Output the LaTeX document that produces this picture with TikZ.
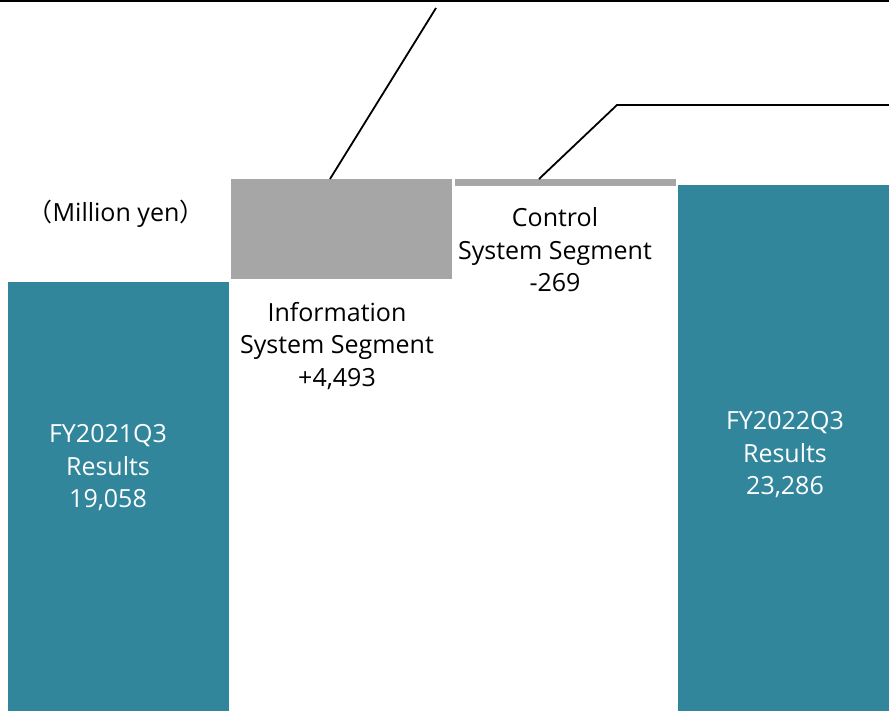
\documentclass[tikz,border=0pt]{standalone}
\usepackage{fontspec}
\setmainfont{Open Sans}
\newfontfamily\cjkfont{Noto Sans CJK JP}
\definecolor{tealbar}{RGB}{49,134,155}
\definecolor{graybar}{RGB}{166,166,166}
\begin{document}
\begin{tikzpicture}[x=1pt,y=-1pt,
  lbl/.style={align=center,font=\fontsize{25}{32.5}\selectfont,inner sep=0pt,text depth=0pt},
  wlbl/.style={lbl,text=white},
  leader/.style={draw=black,line width=1.8pt}]
\useasboundingbox (0,0) rectangle (889,711);
% bars
\fill[tealbar] (8,282) rectangle (229,711);
\fill[graybar] (231,179) rectangle (452,279);
\fill[graybar] (455,179) rectangle (676,186);
\fill[tealbar] (678,185) rectangle (889,711);
% top line
\coordinate (tl) at (0,1);
\coordinate (tr) at (889,1);
\draw[leader] (tl) -- (tr);
% leaders
\coordinate (a1) at (436,8);
\coordinate (a2) at (330,179);
\draw[leader] (a1) -- (a2);
\coordinate (b1) at (539,179);
\coordinate (b2) at (617,105);
\coordinate (b3) at (889,105);
\draw[leader] (b1) -- (b2) -- (b3);
% labels
\node[lbl] (unit) at (116,211) {{\cjkfont （}Million yen{\cjkfont ）}};
\node[lbl] (info) at (337,344) {Information\\System Segment\\+4,493};
\node[lbl] (ctrl) at (555,250) {Control\\System Segment\\-269};
\node[wlbl] (fy21) at (108,466) {FY2021Q3\\Results\\19,058};
\node[wlbl] (fy22) at (785,453) {FY2022Q3\\Results\\23,286};
\end{tikzpicture}
\end{document}
